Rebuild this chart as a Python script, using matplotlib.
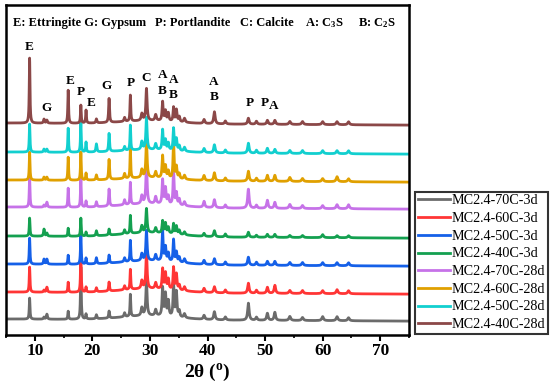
import numpy as np
import matplotlib
matplotlib.use("Agg")
import matplotlib.pyplot as plt

# ---------------- data ----------------
labels = ["MC2.4-70C-3d", "MC2.4-60C-3d", "MC2.4-50C-3d", "MC2.4-40C-3d",
          "MC2.4-70C-28d", "MC2.4-60C-28d", "MC2.4-50C-28d", "MC2.4-40C-28d"]
colors = ["#6b6b6b", "#ff3535", "#1560e8", "#14a050",
          "#c672e8", "#e0a000", "#12cfcf", "#8b4848"]
offsets = [16, 43, 71, 99, 128, 155, 183, 212]
hump = [4, 4, 4, 4, 4, 3, 3, 3]

peak_pos = [9.1, 11.6, 12.1, 15.8, 18.0, 18.9, 20.7, 22.9, 25.6, 26.6, 28.6,
            29.4, 31.0, 32.2, 32.7, 33.2, 34.1, 34.6, 35.1, 36.0, 39.4, 41.2,
            43.1, 47.1, 48.5, 50.4, 51.7, 54.3, 56.5, 60.0, 62.5, 64.5]
peak_fwhm = [0.15, 0.2, 0.2, 0.15, 0.15, 0.15, 0.2, 0.18, 0.25, 0.15, 0.3,
             0.25, 0.3, 0.22, 0.25, 0.25, 0.2, 0.25, 0.25, 0.3, 0.3, 0.3,
             0.3, 0.3, 0.3, 0.3, 0.3, 0.35, 0.35, 0.35, 0.35, 0.35]
# peak heights (arbitrary units) for each series, same order as labels
heights = [
    [21, 2, 5, 8, 52, 5, 4, 7, 4, 22, 8, 35, 6, 28, 22, 15, 33, 25, 6, 4, 4, 8, 3, 17, 3, 7, 8, 4, 3, 4, 4, 3],
    [25, 2, 5, 10, 38, 5, 4, 9, 4, 20, 8, 37, 6, 20, 16, 10, 22, 16, 5, 4, 4, 6, 3, 10, 3, 6, 8, 3, 3, 3, 4, 3],
    [26, 5, 5, 9, 30, 6, 6, 8, 4, 21, 7, 30, 6, 30, 14, 8, 22, 10, 5, 4, 4, 6, 3, 8, 3, 4, 4, 3, 3, 3, 3, 3],
    [18, 7, 3, 8, 18, 4, 5, 6, 4, 18, 7, 24, 5, 12, 10, 6, 10, 8, 4, 3, 3, 6, 3, 5, 2, 3, 3, 2, 2, 3, 2, 2],
    [30, 2, 5, 19, 29, 6, 5, 17, 5, 22, 8, 40, 7, 24, 16, 8, 35, 12, 6, 4, 6, 8, 3, 19, 3, 8, 6, 4, 3, 3, 4, 4],
    [28, 3, 3, 23, 28, 7, 5, 20, 5, 29, 8, 37, 6, 22, 12, 7, 37, 12, 5, 4, 5, 8, 3, 10, 3, 6, 6, 4, 3, 3, 5, 3],
    [28, 3, 3, 24, 30, 10, 8, 18, 4, 25, 8, 32, 6, 20, 10, 7, 22, 12, 5, 4, 4, 8, 3, 10, 3, 5, 4, 3, 3, 3, 3, 3],
    [65, 4, 3, 33, 18, 13, 4, 24, 4, 26, 7, 32, 6, 19, 10, 8, 14, 12, 5, 4, 4, 12, 3, 6, 3, 4, 4, 3, 3, 3, 3, 3],
]

phase_text = ["E", "G", "E", "P", "E", "G", "P", "C",
              "A", "B", "A", "B", "A", "B", "P", "P", "A"]
phase_x = [9.1, 11.95, 16.1, 18.0, 19.8, 22.5, 26.7, 29.3,
           32.2, 32.2, 34.1, 34.1, 41.1, 41.1, 47.4, 50.0, 51.5]
phase_y = [288, 227, 254, 243, 232, 249, 252, 257,
           260, 244, 255, 240, 253, 238, 232, 232, 229]

legend_items = ["E: Ettringite G: Gypsum", "P: Portlandite", "C: Calcite",
                "A: C$_3$S", "B: C$_2$S"]
legend_item_x = [6.22, 30.88, 45.65, 56.94, 66.14]

x_ticks = [10, 20, 30, 40, 50, 60, 70]

# ---------------- drawing ----------------
plt.rcParams["font.family"] = ["Liberation Serif", "DejaVu Serif"]
plt.rcParams["mathtext.fontset"] = "custom"
plt.rcParams["mathtext.rm"] = "Liberation Serif:bold"
plt.rcParams["mathtext.it"] = "Liberation Serif:bold"
plt.rcParams["mathtext.bf"] = "Liberation Serif:bold"
plt.rcParams["mathtext.default"] = "rm"

fig = plt.figure(figsize=(5.5, 3.92), dpi=100)
ax = fig.add_axes([6 / 550, 1 - 335 / 392, 403 / 550, 330 / 392])

x = np.arange(5.0, 75.01, 0.02)
lines = []
for lab, col, off, hm, hs in zip(labels, colors, offsets, hump, heights):
    y = np.full_like(x, float(off)) + hm * np.exp(-((x - 30.0) / 7.0) ** 2) - 0.03 * (x - 5)
    for p, w, h in zip(peak_pos, peak_fwhm, hs):
        g = (w / 2) ** 2 / ((x - p) ** 2 + (w / 2) ** 2)
        y = y + h * g
    ln, = ax.plot(x, y, color=col, lw=2.0, label=lab)
    lines.append(ln)

for t, px, py in zip(phase_text, phase_x, phase_y):
    ax.text(px, py, t, ha="center", va="center", fontsize=9.5, fontweight="bold")

for t, px in zip(legend_items, legend_item_x):
    ax.text(px, 312, t, ha="left", va="center", fontsize=9, fontweight="bold")

ax.set_xlim(5, 75)
ax.set_ylim(0, 330)
ax.set_xticks(x_ticks)
ax.set_xticks(np.arange(5, 76, 5), minor=True)
ax.set_yticks([])
ax.tick_params(axis="x", which="major", direction="out", length=4, width=1.5,
               labelsize=12.5, pad=2)
ax.tick_params(axis="x", which="minor", direction="out", length=2.5, width=1.2)
for lbl in ax.get_xticklabels():
    lbl.set_fontweight("bold")
for s in ax.spines.values():
    s.set_linewidth(1.8)
ax.set_xlabel("2θ ($^{o}$)", fontsize=14, fontweight="bold", labelpad=2)

leg = fig.legend(handles=lines, loc="lower left",
                 bbox_to_anchor=(415 / 550, 1 - 334 / 392), fontsize=10.2,
                 frameon=True, fancybox=False, edgecolor="black",
                 handlelength=2.3, handletextpad=0.1, labelspacing=0.33,
                 borderpad=0.2, borderaxespad=0)
leg.get_frame().set_linewidth(1.5)

fig.savefig("out.png", dpi=100)
